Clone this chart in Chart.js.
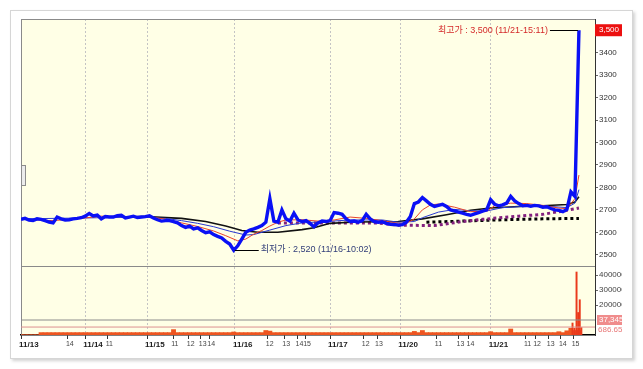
<!DOCTYPE html>
<html>
<head>
<meta charset="utf-8">
<script src="https://cdn.jsdelivr.net/npm/chart.js@4.4.1/dist/chart.umd.min.js"></script>
<style>
  body { margin: 0; background: #fff; }
  #frame {
    position: absolute; left: 10px; top: 10px; width: 621px; height: 347px;
    border: 1px solid #d6d6d6; box-shadow: 2px 2px 3px rgba(0,0,0,0.18); background: #fff;
  }
  #grafico { position: absolute; left: 0; top: 0; }
  #tab {
    position: absolute; left: 10px; top: 154px; width: 3px; height: 19px;
    border: 1px solid #8c8c8c; background: #ececec;
  }
</style>
</head>
<body>
<div id="frame">
  <canvas id="grafico" width="611" height="342"></canvas>
  <div id="tab"></div>
</div>
<script>
// ================= DADOS =================
// price per time slot (x = slot index)
const price = [
  2658, 2662, 2655, 2653, 2660, 2658, 2652, 2646, 2642, 2668, 2660, 2655, 2656, 2660, 2662, 2665,
  2672, 2684, 2673, 2677, 2660, 2670, 2668, 2668, 2674, 2676, 2664, 2668, 2672, 2666, 2668,
  2670, 2674, 2664, 2656, 2650, 2652, 2652, 2648, 2642, 2630, 2622, 2628, 2615, 2620, 2608, 2598, 2602, 2590, 2582, 2575, 2560, 2548,
  2520, 2540, 2570, 2600, 2610, 2615, 2622, 2630, 2645, 2750, 2650, 2645, 2700, 2660, 2650, 2685, 2655, 2648, 2652, 2640, 2625, 2642, 2650, 2648,
  2652, 2688, 2685, 2680, 2660, 2648, 2650, 2645, 2652, 2680, 2660, 2648, 2645, 2647, 2640, 2636, 2635,
  2632, 2634, 2645, 2670, 2728, 2735, 2755, 2740, 2725, 2715, 2720, 2725, 2715, 2700, 2695, 2690, 2685, 2680, 2676, 2682, 2688, 2694, 2700,
  2745, 2725, 2718, 2722, 2730, 2760, 2740, 2728, 2718, 2720, 2716, 2720, 2718, 2712, 2714, 2706, 2700, 2698, 2692, 2702, 2780, 2760, 3500
];

const maRedX = [0, 8, 12, 16, 20, 24, 28, 32, 36, 40, 44, 48, 51, 54, 56, 58, 60, 62, 64, 66, 70, 74, 78, 82, 86, 90, 94, 96, 98, 100, 102, 104, 108, 112, 116, 118, 122, 126, 130, 134, 136, 138, 139];
const maRedY = [2658, 2652, 2658, 2664, 2672, 2670, 2670, 2670, 2658, 2642, 2626, 2606, 2585, 2562, 2570, 2592, 2608, 2628, 2645, 2655, 2656, 2650, 2655, 2668, 2662, 2652, 2640, 2640, 2660, 2700, 2722, 2726, 2712, 2692, 2694, 2718, 2730, 2728, 2720, 2708, 2705, 2750, 2855];

const maBlueX = [0, 16, 30, 36, 40, 44, 48, 52, 56, 58, 62, 66, 70, 76, 82, 90, 94, 98, 100, 104, 108, 112, 116, 120, 126, 132, 136, 138, 139];
const maBlueY = [2660, 2664, 2668, 2662, 2652, 2640, 2625, 2605, 2588, 2590, 2610, 2630, 2642, 2648, 2655, 2655, 2645, 2648, 2665, 2690, 2702, 2696, 2695, 2710, 2716, 2715, 2710, 2730, 2790];

const maBlackX = [25, 31, 40, 46, 51, 55, 59, 64, 70, 73, 77, 83, 90, 94, 100, 106, 112, 117, 124, 130, 136, 138, 139];
const maBlackY = [2668, 2670, 2662, 2648, 2628, 2608, 2600, 2600, 2612, 2620, 2640, 2646, 2647, 2648, 2660, 2678, 2698, 2708, 2715, 2718, 2724, 2735, 2758];

const maPurpleX = [64, 77, 89, 94, 103, 110, 115, 124, 130, 136, 139];
const maPurpleY = [2642, 2642, 2641, 2632, 2630, 2648, 2658, 2672, 2680, 2698, 2708];

const maDotX = [101, 110, 120, 130, 139];
const maDotY = [2645, 2650, 2656, 2660, 2662];

// volume per slot
const volume = [
  2000, 2000, 2000, 2000, 2000, 16000, 16000, 16000, 16000, 16000, 16000, 16000, 16000, 16000, 16000, 16000,
  16000, 16000, 16000, 16000, 16000, 16000, 16000, 16000, 16000, 16000, 16000, 16000, 16000, 16000, 16000,
  16000, 16000, 16000, 16000, 16000, 16000, 16000, 36000, 16000, 16000, 16000, 16000, 16000, 16000, 16000, 16000, 16000, 16000, 16000, 16000, 16000, 16000,
  20000, 16000, 16000, 16000, 16000, 16000, 16000, 16000, 30000, 26000, 16000, 16000, 16000, 16000, 16000, 16000, 16000, 16000, 16000, 16000, 16000, 16000, 16000, 16000,
  16000, 16000, 16000, 16000, 16000, 16000, 16000, 16000, 16000, 16000, 16000, 16000, 16000, 16000, 16000, 16000, 16000,
  16000, 16000, 16000, 16000, 24000, 16000, 30000, 16000, 16000, 16000, 16000, 16000, 16000, 16000, 16000, 16000, 16000, 16000, 16000, 16000, 16000, 16000, 16000,
  22000, 16000, 16000, 16000, 16000, 40000, 16000, 16000, 16000, 16000, 16000, 16000, 16000, 16000, 16000, 16000, 16000, 22000, 16000, 28000, 45000, 30000, 30000
];
const spikeX = [137.4, 137.9, 138.4, 138.8, 139.2, 139.6];
const spikeV = [80000, 45000, 420000, 150000, 235000, 50000];

const volRef = [100000, 53000];
const volRefText = ['37,345', '686.65'];

const dayPos = [0, 16, 31.4, 53.3, 77, 94.5, 117];
const dayText = ['11/13', '11/14', '11/15', '11/16', '11/17', '11/20', '11/21'];
const hourPos = [11.7, 21.6, 37.9, 41.8, 44.8, 46.9, 61.5, 65.6, 68.9, 70.8, 85.4, 88.7, 103.6, 109, 111.5, 125.8, 128.1, 131.5, 134.5, 137.7];
const hourText = ['14', '11', '11', '12', '13', '14', '12', '13', '14', '15', '12', '13', '11', '13', '14', '11', '12', '13', '14', '15'];

const priceTicks = [2500, 2550, 2600, 2650, 2700, 2750, 2800, 2850, 2900, 2950, 3000, 3050, 3100, 3150, 3200, 3250, 3300, 3350, 3400, 3450];
const volTicks = [200000, 300000, 400000];

const highTime = '11/21-15:11';
const lowTime = '11/16-10:02';

// ================= EIXOS =================
const xTicks = dayPos.map((v, i) => ({ value: v, label: dayText[i], day: true }))
  .concat(hourPos.map((v, i) => ({ value: v, label: hourText[i], day: false })))
  .sort((a, b) => a.value - b.value);

const FONT = "'Liberation Sans', Arial, 'Noto Sans CJK KR', sans-serif";
const pts = (xs, ys) => xs.map((x, i) => ({ x: x, y: ys[i] }));
const fmt = v => v.toLocaleString('en-US');

const deco = {
  id: 'deco',
  beforeDraw(chart) {
    const { ctx, chartArea: a } = chart;
    ctx.save();
    ctx.fillStyle = '#FFFFE6';
    ctx.fillRect(a.left, a.top, a.right - a.left, a.bottom - a.top);
    ctx.restore();
  },
  beforeDatasetsDraw(chart) {
    const { ctx, chartArea: a, scales } = chart;
    const sep = Math.round(scales.yv.top) + 0.5;
    ctx.save();
    ctx.strokeStyle = '#8a8a8a';
    ctx.lineWidth = 1;
    ctx.beginPath();
    ctx.moveTo(a.left, a.top + 0.5); ctx.lineTo(a.right, a.top + 0.5);
    ctx.moveTo(a.left + 0.5, a.top); ctx.lineTo(a.left + 0.5, a.bottom);
    ctx.moveTo(a.left, sep); ctx.lineTo(a.right, sep);
    ctx.stroke();
    ctx.restore();
  },
  afterDatasetsDraw(chart) {
    const { ctx, scales } = chart;
    const x = scales.x, yp = scales.yp, yv = scales.yv;
    const hi = Math.max(...price), lo = Math.min(...price);
    const hx = x.getPixelForValue(price.indexOf(hi)), hy = Math.round(yp.getPixelForValue(hi)) + 0.5;
    const lx = x.getPixelForValue(price.indexOf(lo)), ly = Math.round(yp.getPixelForValue(lo)) + 0.5;
    ctx.save();
    ctx.lineWidth = 1;
    ctx.strokeStyle = '#000';
    ctx.beginPath();
    ctx.moveTo(hx - 29, hy); ctx.lineTo(hx - 1, hy);
    ctx.moveTo(lx + 1, ly); ctx.lineTo(lx + 25, ly);
    ctx.stroke();
    ctx.font = '9px ' + FONT;
    ctx.textBaseline = 'middle';
    ctx.fillStyle = '#d42a2a';
    ctx.textAlign = 'right';
    ctx.fillText('최고가 : ' + fmt(hi) + ' (' + highTime + ')', hx - 31, hy);
    ctx.fillStyle = '#34407a';
    ctx.textAlign = 'left';
    ctx.fillText('최저가 : ' + fmt(lo) + ' (' + lowTime + ')', lx + 27, ly - 1);

    // current price box
    const last = price[price.length - 1];
    const cy = yp.getPixelForValue(last);
    ctx.fillStyle = '#ec1010';
    ctx.fillRect(yp.left, cy - 6, chart.width - yp.left, 12);
    ctx.fillStyle = '#fff';
    ctx.font = '8px ' + FONT;
    ctx.fillText(fmt(last), yp.left + 4, cy);

    // volume reference labels
    const r1 = yv.getPixelForValue(volRef[0]);
    ctx.fillStyle = '#f08c8c';
    ctx.fillRect(yv.left + 2, r1 - 5, chart.width - yv.left, 10);
    ctx.fillStyle = '#fff';
    ctx.fillText(volRefText[0], yv.left + 4, r1);
    const r2 = yv.getPixelForValue(volRef[1]);
    ctx.fillStyle = '#e87878';
    ctx.fillText(volRefText[1], yv.left + 3, r2 + 3);
    ctx.restore();
  }
};

// ================= GRÁFICO =================
const ctx = document.getElementById('grafico');

new Chart(ctx, {
  type: 'line',
  data: {
    datasets: [
      { label: '가격', data: price.map((v, i) => ({ x: i, y: v })), yAxisID: 'yp',
        borderColor: '#0a10f5', borderWidth: 3.4, pointRadius: 0, tension: 0 },
      { label: 'MA5', data: pts(maRedX, maRedY), yAxisID: 'yp',
        borderColor: '#e8452a', borderWidth: 1, pointRadius: 0 },
      { label: 'MA20', data: pts(maBlueX, maBlueY), yAxisID: 'yp',
        borderColor: '#2a3ad0', borderWidth: 1, pointRadius: 0 },
      { label: 'MA60', data: pts(maBlackX, maBlackY), yAxisID: 'yp',
        borderColor: '#111', borderWidth: 1.6, pointRadius: 0 },
      { label: 'MA120', data: pts(maPurpleX, maPurpleY), yAxisID: 'yp',
        borderColor: '#84217e', borderWidth: 3, borderDash: [3, 3], pointRadius: 0 },
      { label: 'MA240', data: pts(maDotX, maDotY), yAxisID: 'yp',
        borderColor: '#000', borderWidth: 3, borderDash: [3, 3], pointRadius: 0 },
      { label: 'ref1', data: [{ x: 0, y: volRef[0] }, { x: 143, y: volRef[0] }], yAxisID: 'yv',
        borderColor: '#8c8c8c', borderWidth: 1, pointRadius: 0 },
      { label: 'ref2', data: [{ x: 0, y: volRef[1] }, { x: 143, y: volRef[1] }], yAxisID: 'yv',
        borderColor: '#dc9090', borderWidth: 1, pointRadius: 0 },
      { type: 'bar', label: '거래량+', data: pts(spikeX, spikeV), yAxisID: 'yv',
        backgroundColor: '#ea3a1c', barThickness: 1.3, grouped: false },
      { type: 'bar', label: '거래량', data: volume.map((v, i) => ({ x: i, y: v })), yAxisID: 'yv',
        backgroundColor: '#ee5520', barThickness: 4.2, grouped: false }
    ]
  },
  options: {
    responsive: false,
    animation: false,
    devicePixelRatio: 1,
    layout: { padding: { left: 10, top: 8, right: 0, bottom: 0 } },
    plugins: { legend: { display: false }, tooltip: { enabled: false } },
    scales: {
      x: {
        type: 'linear', min: 0, max: 143, offset: false,
        afterBuildTicks: s => { s.ticks = xTicks.map(t => ({ value: t.value })); },
        afterFit: s => { s.height = 18; },
        border: { color: '#000', width: 1.5, dash: [2, 2] },
        grid: {
          offset: false,
          color: c => (c.tick && dayPos.includes(c.tick.value)) ? '#c4c4c4' : 'rgba(0,0,0,0)',
          tickColor: '#333', tickLength: 4, drawTicks: true
        },
        ticks: {
          autoSkip: false, maxRotation: 0, align: 'start', labelOffset: -2, padding: 1,
          callback: (v, i) => xTicks[i] ? xTicks[i].label : '',
          color: c => (xTicks[c.index] && xTicks[c.index].day) ? '#1a1a1a' : '#444',
          font: c => (xTicks[c.index] && xTicks[c.index].day)
            ? { family: FONT, size: 8, weight: 'bold' }
            : { family: FONT, size: 7 }
        }
      },
      yp: {
        type: 'linear', position: 'right', stack: 'r', stackWeight: 247,
        min: 2450, max: 3550,
        afterBuildTicks: s => { s.ticks = priceTicks.map(v => ({ value: v })); },
        afterFit: s => { s.width = 27; },
        border: { color: '#333', width: 1 },
        grid: { drawOnChartArea: false, tickLength: 3, tickColor: '#666' },
        ticks: {
          padding: 1, color: '#333', font: { family: FONT, size: 8 },
          callback: v => (v % 100 === 0 ? String(v) : '')
        }
      },
      yv: {
        type: 'linear', position: 'right', stack: 'r', stackWeight: 69,
        min: 0, max: 460000,
        afterBuildTicks: s => { s.ticks = volTicks.map(v => ({ value: v })); },
        afterFit: s => { s.width = 27; },
        border: { color: '#333', width: 1 },
        grid: { drawOnChartArea: false, tickLength: 3, tickColor: '#666' },
        ticks: {
          padding: 1, color: '#444', font: { family: FONT, size: 8 },
          callback: v => String(v)
        }
      }
    }
  },
  plugins: [deco]
});
</script>
</body>
</html>
